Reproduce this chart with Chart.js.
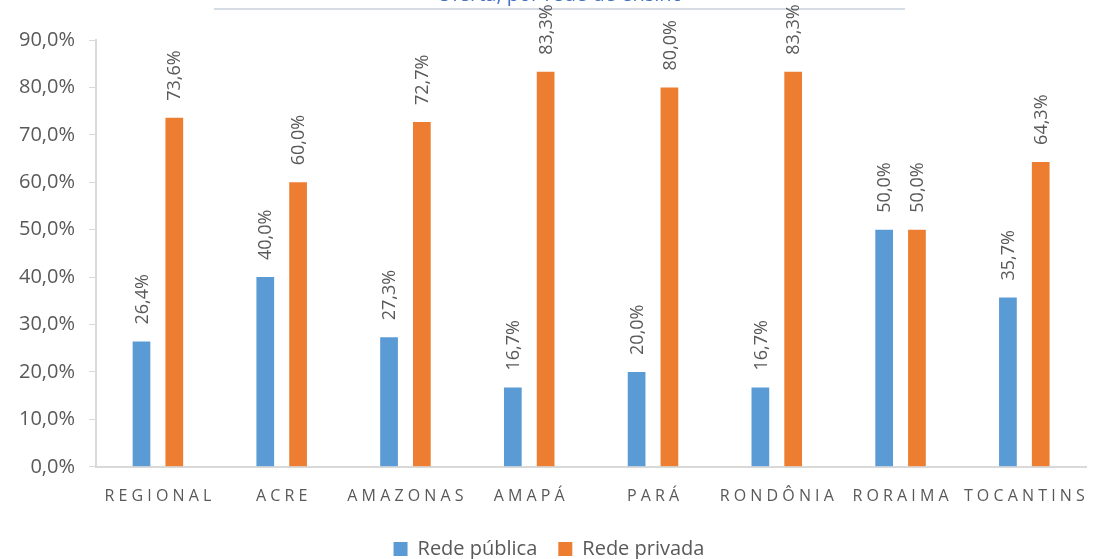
<!DOCTYPE html>
<html>
<head>
<meta charset="utf-8">
<script src="https://cdn.jsdelivr.net/npm/chart.js@4/dist/chart.umd.min.js"></script>
<style>
  html, body { margin: 0; padding: 0; background: #fff; }
  #wrap { width: 1097px; height: 559px; position: relative; }
</style>
</head>
<body>
<div id="wrap"><canvas id="chart" width="1097" height="559"></canvas></div>
<script>
const categories = ["REGIONAL", "ACRE", "AMAZONAS", "AMAPÁ", "PARÁ", "RONDÔNIA", "RORAIMA", "TOCANTINS"];
const publica = [26.4, 40.0, 27.3, 16.7, 20.0, 16.7, 50.0, 35.7];
const privada = [73.6, 60.0, 72.7, 83.3, 80.0, 83.3, 50.0, 64.3];
const seriesNames = ["Rede pública", "Rede privada"];
const titleText = "Oferta, por rede de ensino";

const fmt = v => v.toFixed(1).replace('.', ',') + '%';
const gray = '#595959';
const axisGray = '#D9D9D9';
const family = '"Open Sans", "Noto Sans", sans-serif';

// rotated value labels above each bar
const valueLabels = {
  id: 'valueLabels',
  afterDatasetsDraw(chart) {
    const ctx = chart.ctx;
    ctx.save();
    ctx.font = '18px ' + family;
    ctx.fillStyle = gray;
    ctx.textAlign = 'left';
    ctx.textBaseline = 'middle';
    chart.data.datasets.forEach((ds, i) => {
      chart.getDatasetMeta(i).data.forEach((bar, j) => {
        ctx.save();
        ctx.translate(bar.x + 1, bar.y - 17);
        ctx.rotate(-Math.PI / 2);
        ctx.fillText(fmt(ds.data[j]), 0, 0);
        ctx.restore();
      });
    });
    ctx.restore();
  }
};

// cut-off title at the very top
const topTitle = {
  id: 'topTitle',
  beforeDraw(chart) {
    const ctx = chart.ctx;
    ctx.save();
    ctx.fillStyle = '#fff';
    ctx.fillRect(0, 0, chart.width, chart.height);
    ctx.font = '20px ' + family;
    ctx.fillStyle = '#4472C4';
    ctx.textAlign = 'center';
    ctx.textBaseline = 'alphabetic';
    ctx.fillText(titleText, 560, 1);
    ctx.strokeStyle = '#D6DCE5';
    ctx.lineWidth = 2;
    ctx.beginPath();
    ctx.moveTo(214, 9);
    ctx.lineTo(905, 9);
    ctx.stroke();
    ctx.restore();
  }
};

new Chart(document.getElementById('chart'), {
  type: 'bar',
  data: {
    labels: categories,
    datasets: [
      { label: seriesNames[0], data: publica, backgroundColor: '#5B9BD5' },
      { label: seriesNames[1], data: privada, backgroundColor: '#ED7D31' }
    ]
  },
  options: {
    responsive: false,
    animation: false,
    categoryPercentage: 0.53,
    barPercentage: 0.54,
    layout: { padding: { top: 40, left: 5, right: 4, bottom: -10 } },
    plugins: {
      legend: {
        position: 'bottom',
        labels: {
          color: gray,
          font: { size: 20, family: family },
          boxWidth: 14,
          boxHeight: 14,
          padding: 21
        }
      },
      tooltip: { enabled: false },
      title: { display: false }
    },
    scales: {
      y: {
        min: 0,
        max: 90,
        ticks: {
          stepSize: 10,
          color: gray,
          font: { size: 20, family: family },
          callback: v => fmt(v),
          padding: 14
        },
        grid: { drawOnChartArea: false, tickLength: 7, color: axisGray, lineWidth: 1 },
        border: { display: true, color: axisGray, width: 2 }
      },
      x: {
        ticks: {
          color: gray,
          font: { size: 16, family: family },
          padding: 12,
          maxRotation: 0,
          autoSkip: false,
          callback: function (v) { return this.getLabelForValue(v).split('').join(' '); }
        },
        grid: { display: false },
        border: { display: true, color: axisGray, width: 2 }
      }
    }
  },
  plugins: [topTitle, valueLabels]
});
</script>
</body>
</html>
